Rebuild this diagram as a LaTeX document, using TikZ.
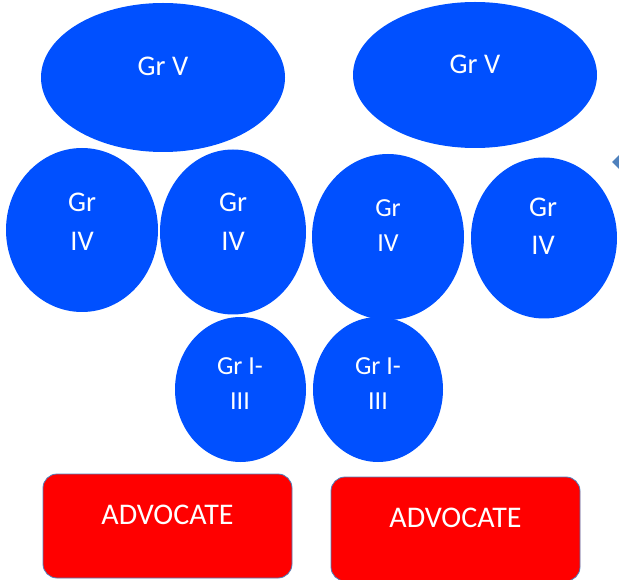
\documentclass[tikz,border=0pt]{standalone}
\usepackage{fontspec}
\setmainfont{Carlito}
\usetikzlibrary{calc,shapes.geometric}
\definecolor{grblue}{RGB}{0,80,255}
\definecolor{advred}{RGB}{255,0,0}
\definecolor{edgeblue}{RGB}{79,129,189}
\tikzset{
  gr/.style={ellipse, fill=grblue, inner sep=0pt},
  grtext/.style={text=white, align=center, inner sep=0pt},
  advbox/.style={draw=edgeblue, line width=0.8pt, fill=advred, rounded corners=14pt, minimum width=249pt, minimum height=104pt, inner sep=0pt},
}
\begin{document}
\begin{tikzpicture}[x=1pt,y=-1pt]
\useasboundingbox (0,0) rectangle (619,580);
\node [gr, minimum width=244pt, minimum height=149pt] (v1) at (163,77.5) {};
\node [gr, minimum width=244pt, minimum height=146pt] (v2) at (475,75) {};
\node [gr, minimum width=152pt, minimum height=164pt] (iv1) at (82,230) {};
\node [gr, minimum width=146pt, minimum height=165pt] (iv2) at (233,232) {};
\node [gr, minimum width=152pt, minimum height=166pt] (iv3) at (388,237) {};
\node [gr, minimum width=146pt, minimum height=161pt] (iv4) at (544,238) {};
\node [gr, minimum width=131pt, minimum height=145pt] (lo1) at (240.5,389.5) {};
\node [gr, minimum width=130pt, minimum height=145pt] (lo2) at (378,389.5) {};
\node [grtext, font=\fontsize{28.5}{39}\selectfont] (tv1) at ($(v1)+(0,-11.5)$) {Gr V};
\node [grtext, font=\fontsize{28.5}{39}\selectfont] (tv2) at ($(v2)+(0,-11)$) {Gr V};
\node [grtext, font=\fontsize{28.5}{39}\selectfont] (tiv1) at (82,221.5) {Gr\\IV};
\node [grtext, font=\fontsize{28.5}{39}\selectfont] (tiv2) at (233,222) {Gr\\IV};
\node [grtext, font=\fontsize{26}{35}\selectfont] (tiv3) at (388,225.5) {Gr\\IV};
\node [grtext, font=\fontsize{28.5}{38}\selectfont] (tiv4) at (543,226) {Gr\\IV};
\node [grtext, font=\fontsize{26}{35}\selectfont] (tlo1) at (240,383.5) {Gr I-\\III};
\node [grtext, font=\fontsize{26}{35}\selectfont] (tlo2) at (378,383.5) {Gr I-\\III};
\node [advbox] (a1) at (167.5,526) {};
\node [advbox] (a2) at (455.5,529) {};
\node [grtext, font=\fontsize{30}{32}\selectfont] (ta1) at ($(a1)+(0,-11)$) {ADVOCATE};
\node [grtext, font=\fontsize{30}{32}\selectfont] (ta2) at ($(a2)+(0,-11)$) {ADVOCATE};
\fill [edgeblue] (612,162) -- (619,155) -- (626,162) -- (619,169) -- cycle;
\end{tikzpicture}
\end{document}
